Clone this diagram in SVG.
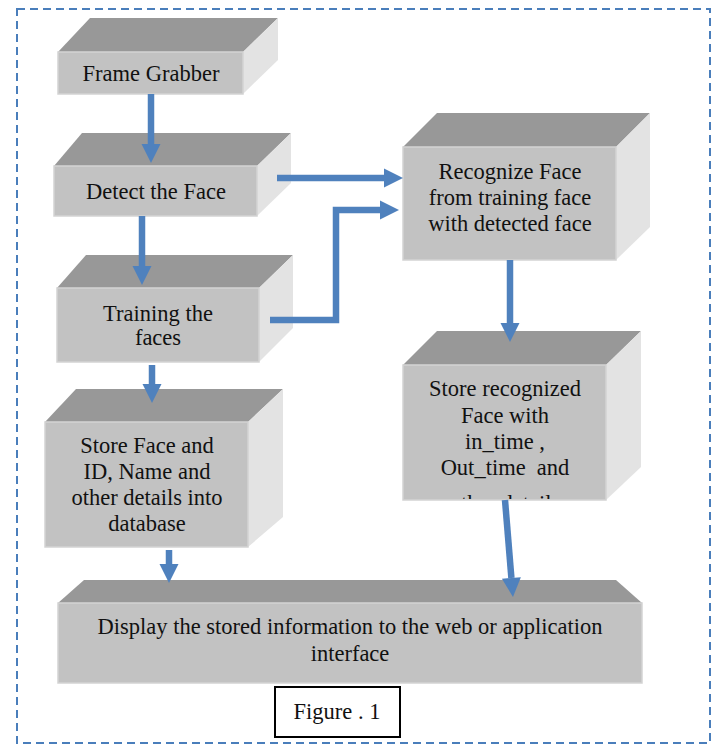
<svg xmlns="http://www.w3.org/2000/svg" width="715" height="745" viewBox="0 0 715 745">
<style>
.top{fill:#989898}
.front{fill:#c2c2c2;stroke:#d3d3d3;stroke-width:1.5}
.side{fill:#e3e3e3}
.t{font-family:"Liberation Serif","Times New Roman",serif;font-size:22.5px;fill:#111;text-anchor:middle}
.c{fill:none;stroke:#4f81bd;stroke-width:6.5;marker-end:url(#ah)}
</style>
<defs>
<marker id="ah" markerUnits="userSpaceOnUse" markerWidth="20" markerHeight="20" refX="0" refY="9.5" orient="auto" overflow="visible">
<path d="M0,0 L19,9.5 L0,19 z" fill="#4f81bd"/>
</marker>
<clipPath id="clipSR"><rect x="403" y="365" width="203" height="134"/></clipPath>
</defs>
<rect x="0" y="0" width="715" height="745" fill="#fff"/>
<rect x="17" y="9" width="693" height="734" fill="none" stroke="#4a7ebb" stroke-width="2" stroke-dasharray="8 5"/>

<g id="frame-grabber">
<polygon class="top" points="58,52 90,18 278,18 243,52"/>
<polygon class="side" points="243,52 278,18 278,60 243,94"/>
<rect class="front" x="58" y="52" width="185" height="42"/>
<text class="t" x="151" y="81">Frame Grabber</text>
</g>

<g id="detect-face">
<polygon class="top" points="54,166 82,133 291,133 257,166"/>
<polygon class="side" points="257,166 291,133 291,183 257,216"/>
<rect class="front" x="54" y="166" width="203" height="50"/>
<text class="t" x="156" y="199">Detect the Face</text>
</g>

<g id="training">
<polygon class="top" points="57,288 86,255 293,255 259,288"/>
<polygon class="side" points="259,288 293,255 293,328 259,362"/>
<rect class="front" x="57" y="288" width="202" height="74"/>
<text class="t" x="158" y="321">Training the</text>
<text class="t" x="158" y="345">faces</text>
</g>

<g id="store-face">
<polygon class="top" points="45,422 76,389 283,389 248,422"/>
<polygon class="side" points="248,422 283,389 283,517 248,547"/>
<rect class="front" x="45" y="422" width="203" height="125"/>
<text class="t" x="147" y="453">Store Face and</text>
<text class="t" x="147" y="479">ID, Name and</text>
<text class="t" x="147" y="505">other details into</text>
<text class="t" x="147" y="531">database</text>
</g>

<g id="recognize-face">
<polygon class="top" points="403,147 437,113 650,113 616,147"/>
<polygon class="side" points="616,147 650,113 650,227 616,260"/>
<rect class="front" x="403" y="147" width="213" height="113"/>
<text class="t" x="510" y="179">Recognize Face</text>
<text class="t" x="510" y="205">from training face</text>
<text class="t" x="510" y="231">with detected face</text>
</g>

<g id="store-recognized">
<polygon class="top" points="403,365 437,331 641,331 606,365"/>
<polygon class="side" points="606,365 641,331 641,467 606,500"/>
<rect class="front" x="403" y="365" width="203" height="135"/>
<g clip-path="url(#clipSR)">
<text class="t" x="505" y="396">Store recognized</text>
<text class="t" x="505" y="423">Face with</text>
<text class="t" x="505" y="449">in_time ,</text>
<text class="t" x="505" y="475" xml:space="preserve">Out_time  and</text>
<text class="t" x="505" y="511">other details</text>
</g>
</g>

<g id="display">
<polygon class="top" points="58,603 84,580 616,580 642,603"/>
<rect class="front" x="58" y="603" width="584" height="80"/>
<text class="t" x="350" y="634">Display the stored information to the web or application</text>
<text class="t" x="350" y="661">interface</text>
</g>

<g id="figure-label">
<rect x="275" y="687" width="125" height="50" fill="#fff" stroke="#000" stroke-width="2"/>
<text class="t" x="337" y="719">Figure . 1</text>
</g>

<g id="connectors">
<path class="c" d="M151,94 L151,144"/>
<path class="c" d="M142,216 L142,266"/>
<path class="c" d="M152,365 L152,384"/>
<path class="c" d="M169,550 L169,564"/>
<path class="c" d="M277,178 L384,178"/>
<path class="c" d="M270,320 L336,320 L336,210 L380,210"/>
<path class="c" d="M510,260 L510,323"/>
<path class="c" d="M505,500 L511.4,578"/>
</g>
</svg>
